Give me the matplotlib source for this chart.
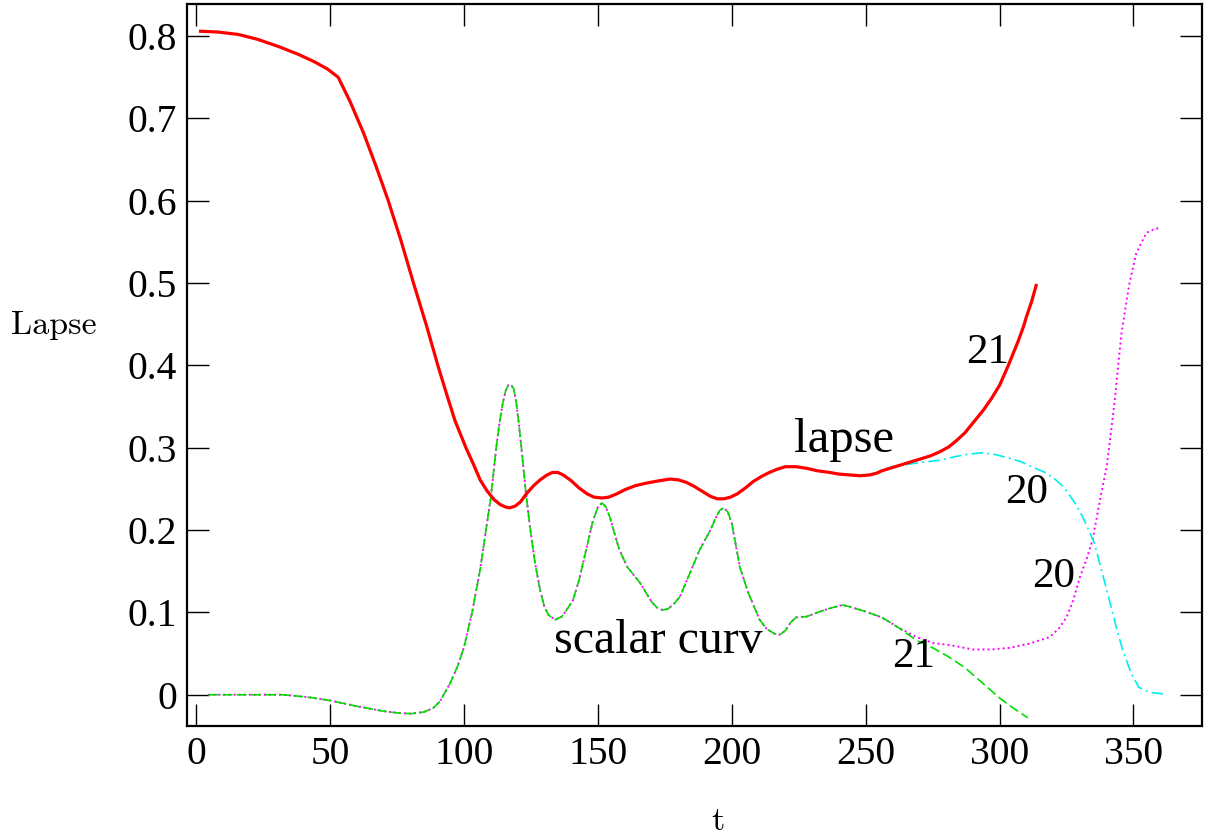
import matplotlib
matplotlib.use("Agg")
from matplotlib import pyplot as plt

# lapse, run 21 (red)
t_lapse21 = [1, 8, 15.7, 23, 31, 38, 44, 49, 53, 57.5, 62.5, 67, 71.6, 76.5, 81.3, 86,
             90.3, 93.5, 96.6, 100.7, 103.5, 106, 108.5, 111.2, 113.5, 115.5, 117, 119,
             121, 123.5, 126, 128.4, 131, 133, 135, 137, 140, 143, 146, 148.5, 151.5,
             154, 157, 160, 164, 168, 173, 177, 180, 183, 186, 189, 192, 194.5, 197, 199.5,
             202, 205, 208, 211, 214, 217, 220, 224, 228, 232, 236.6, 240, 244, 248, 251.5,
             254, 256, 260, 265, 270, 274, 277.6, 281, 284, 287, 290, 294, 297, 300, 303, 305,
             307, 309, 310, 312, 313.8]
lapse21 = [0.806, 0.805, 0.802, 0.796, 0.787, 0.778, 0.769, 0.760, 0.750, 0.720, 0.682, 0.643,
           0.601, 0.551, 0.498, 0.448, 0.399, 0.365, 0.333, 0.300, 0.280, 0.261, 0.248, 0.237,
           0.231, 0.228, 0.227, 0.229, 0.234, 0.245, 0.254, 0.261, 0.267, 0.270, 0.270, 0.267,
           0.260, 0.251, 0.244, 0.240, 0.239, 0.240, 0.244, 0.249, 0.254, 0.257, 0.260, 0.262,
           0.261, 0.258, 0.253, 0.247, 0.241, 0.238, 0.238, 0.240, 0.244, 0.251, 0.259, 0.265,
           0.270, 0.274, 0.277, 0.277, 0.275, 0.272, 0.270, 0.268, 0.267, 0.266, 0.267, 0.269,
           0.272, 0.276, 0.281, 0.286, 0.290, 0.295, 0.301, 0.309, 0.318, 0.330, 0.346, 0.360,
           0.376, 0.398, 0.414, 0.430, 0.448, 0.459, 0.478, 0.499]

# lapse, run 20 (cyan) - coincide com a 21 ate t ~ 255
k20 = t_lapse21.index(251.5)
t_lapse20 = t_lapse21[:k20] + [251.5, 256, 260, 264, 268, 272.7, 278, 283, 288, 293.7, 298,
                               303, 308, 312, 317, 321, 324, 326, 328.5, 331, 333, 335.4, 338,
                               341, 343.5, 346, 349, 352, 356, 361]
lapse20 = lapse21[:k20] + [0.267, 0.273, 0.277, 0.279, 0.281, 0.283, 0.285, 0.289, 0.292, 0.294,
                           0.292, 0.288, 0.283, 0.277, 0.270, 0.261, 0.252, 0.243, 0.231, 0.216,
                           0.202, 0.184, 0.152, 0.115, 0.083, 0.054, 0.027, 0.009, 0.003, 0.001]

# scalar curvature, run 21 (green)
t_curv21 = [4.5, 15, 32.5, 42, 50, 60, 70, 75, 80, 85, 88.5, 91, 94.8, 97.5, 100, 103, 106,
            108, 110, 112, 113.4, 114.5, 115.5, 116.5, 117.4, 118.5, 119.5, 120.5, 121.6, 123,
            124.6, 126.5, 128.4, 130, 131.5, 134, 136.5, 138.5, 140.7, 143, 145.8, 148, 150,
            151.5, 153, 154.5, 156, 158, 161, 165.7, 170, 172, 174, 176, 178, 180.6, 184, 188,
            192, 194, 195.5, 197, 198.5, 200, 203, 206, 210.4, 213, 216, 218, 220, 222, 224,
            228, 232, 236.6, 241.4, 244, 250, 256, 262, 269, 275, 281, 287, 293.7, 300, 305,
            310.5]
curv21 = [0.000, 0.000, 0.000, -0.003, -0.007, -0.014, -0.020, -0.022, -0.023, -0.021, -0.016,
          -0.008, 0.014, 0.034, 0.058, 0.100, 0.152, 0.196, 0.240, 0.300, 0.334, 0.355, 0.369,
          0.376, 0.377, 0.372, 0.355, 0.328, 0.294, 0.248, 0.204, 0.160, 0.127, 0.107, 0.097,
          0.091, 0.095, 0.104, 0.115, 0.140, 0.179, 0.210, 0.228, 0.233, 0.228, 0.215, 0.198,
          0.176, 0.155, 0.136, 0.113, 0.106, 0.103, 0.104, 0.109, 0.119, 0.145, 0.176, 0.200,
          0.215, 0.224, 0.227, 0.222, 0.208, 0.155, 0.125, 0.091, 0.080, 0.074, 0.073, 0.078,
          0.088, 0.094, 0.095, 0.100, 0.105, 0.109, 0.107, 0.101, 0.094, 0.082, 0.066, 0.057,
          0.046, 0.033, 0.014, -0.004, -0.016, -0.028]

# scalar curvature, run 20 (magenta) - coincide com a 21 ate t ~ 256
k_c = t_curv21.index(256)
t_curv20 = t_curv21[:k_c] + [256, 262, 269, 275, 282, 290, 297, 303.7, 311, 318.7, 322, 325,
                             327.5, 330, 332.5, 334.7, 338, 340, 342, 343, 345.5, 348.5, 351,
                             354.8, 358, 360]
curv20 = curv21[:k_c] + [0.094, 0.082, 0.070, 0.063, 0.060, 0.055, 0.055, 0.057, 0.062, 0.070,
                         0.080, 0.094, 0.115, 0.143, 0.165, 0.188, 0.245, 0.277, 0.330, 0.358,
                         0.439, 0.500, 0.536, 0.561, 0.566, 0.567]

# rótulos das curvas: (texto, t, valor, tamanho)
rotulos = [("lapse", 242, 0.31, 35), ("scalar curv", 172.5, 0.065, 34.5),
           ("21", 295.5, 0.415, 31), ("20", 310, 0.245, 31), ("20", 320, 0.143, 31),
           ("21", 268, 0.046, 31)]

x_ticks = [0, 50, 100, 150, 200, 250, 300, 350]
y_ticks = [0, 0.1, 0.2, 0.3, 0.4, 0.5, 0.6, 0.7, 0.8]

plt.rcParams['font.family'] = ['Liberation Serif', 'DejaVu Serif']

fig = plt.figure(figsize=(12.06, 8.35), dpi=100)
ax = fig.add_axes([0.155, 0.1305, 0.8415, 0.8647])

# magenta e ciano por baixo, verde e vermelho por cima
ax.plot(t_curv20, curv20, color='#ff00ff', lw=1.4, ls=(0, (1, 1.6)))
ax.plot(t_curv21, curv21, color='#00dd00', lw=1.2, ls=(0, (6, 2.5)))
ax.plot(t_lapse20, lapse20, color='#00eeee', lw=1.2, ls=(0, (7, 2.5, 1.2, 2.5)))
ax.plot(t_lapse21, lapse21, color='#ff0000', lw=2.3, solid_capstyle='butt')

for texto, tx, ty, tam in rotulos:
    ax.text(tx, ty, texto, fontsize=tam, ha='center', va='center')

ax.set_xlim(-3.5, 375.5)
ax.set_ylim(-0.038, 0.839)
ax.set_xticks(x_ticks)
ax.set_xticklabels([str(v) for v in x_ticks])
ax.set_yticks(y_ticks)
ax.set_yticklabels(['0'] + ['%.1f' % v for v in y_ticks[1:]])
ax.tick_params(direction='in', length=16, width=1.0, labelsize=28.5,
               top=True, right=True, pad=7)
for s in ax.spines.values():
    s.set_linewidth(1.6)

fig.text(0.0448, 0.61, 'Lapse', fontsize=24.5, family='cmr10', ha='center', va='center')
fig.text(0.595, 0.016, 't', fontsize=24.5, family='cmr10', ha='center', va='center')

fig.savefig('out.png', dpi=100)
